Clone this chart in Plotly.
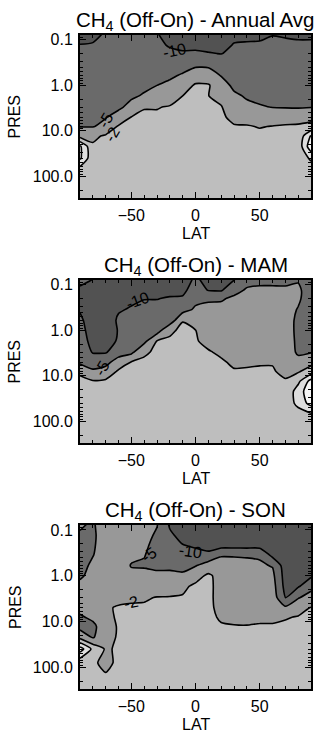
import numpy as np
import plotly.graph_objects as go

# ---------------- data ----------------
lats = [-90, -80, -70, -60, -50, -40, -30, -20, -10, 0, 10, 20, 30, 40, 50, 60, 70, 80, 90]
pres = [0.07, 0.13, 0.2, 0.35, 0.6, 1.0, 1.7, 3, 5, 8, 13, 22, 40, 80, 320]

# each inner list = one latitude column, values top (0.07 hPa) -> bottom (320 hPa)
annual_cols = [
    [-11.5, -9.9, -9.5, -8.7, -8.0, -7.3, -6.7, -6.0, -5.6, -5.2, -3.0, 6.0, 6.0, -1.0, -0.5],
    [-10.8, -9.8, -9.3, -8.6, -8.0, -7.4, -6.8, -6.2, -5.6, -5.2, -2.6, -1.5, -1.0, -0.8, -0.5],
    [-9.8, -9.3, -8.9, -8.3, -7.7, -7.1, -6.5, -5.8, -5.2, -4.3, -1.5, -1.2, -1.0, -0.8, -0.5],
    [-9.5, -9.0, -8.6, -8.0, -7.3, -6.7, -6.0, -5.6, -4.2, -1.6, -1.2, -1.0, -0.9, -0.7, -0.5],
    [-9.5, -9.0, -8.5, -7.8, -7.0, -6.3, -5.5, -4.4, -1.9, -1.4, -1.1, -1.0, -0.9, -0.7, -0.5],
    [-9.7, -9.2, -8.6, -7.7, -6.6, -5.7, -4.8, -2.1, -1.6, -1.3, -1.1, -1.0, -0.9, -0.7, -0.5],
    [-9.9, -9.3, -8.6, -7.5, -6.2, -5.0, -3.8, -2.1, -1.6, -1.3, -1.1, -1.0, -0.9, -0.7, -0.5],
    [-11.5, -10.3, -9.3, -7.6, -5.9, -4.3, -3.0, -1.8, -1.4, -1.2, -1.1, -1.0, -0.9, -0.7, -0.5],
    [-12.0, -10.6, -9.7, -7.0, -4.7, -3.5, -2.0, -1.5, -1.3, -1.2, -1.1, -1.0, -0.9, -0.7, -0.5],
    [-12.5, -10.8, -9.5, -5.7, -3.8, -1.5, -1.9, -1.5, -1.3, -1.2, -1.0, -0.9, -0.8, -0.6, -0.4],
    [-12.7, -11.0, -9.8, -5.8, -3.9, -1.6, -1.95, -1.6, -1.3, -1.2, -1.0, -0.9, -0.8, -0.6, -0.4],
    [-12.5, -11.0, -10.1, -7.5, -5.2, -4.0, -2.8, -1.8, -1.4, -1.2, -1.0, -0.9, -0.8, -0.6, -0.4],
    [-11.0, -9.8, -9.2, -8.3, -7.0, -5.8, -4.6, -3.6, -2.7, -1.7, -1.3, -1.0, -0.8, -0.6, -0.4],
    [-10.8, -9.7, -9.1, -8.3, -7.3, -6.3, -5.4, -4.5, -2.8, -1.8, -1.3, -1.0, -0.8, -0.6, -0.4],
    [-10.4, -9.8, -9.3, -8.6, -7.8, -6.9, -6.0, -4.8, -3.6, -2.1, -1.4, -1.0, -0.8, -0.6, -0.4],
    [-10.1, -9.7, -9.4, -8.8, -8.0, -7.1, -6.1, -5.1, -3.4, -1.9, -1.4, -1.0, -0.8, -0.6, -0.4],
    [-10.15, -9.8, -9.5, -9.0, -8.3, -7.4, -6.4, -5.3, -3.0, -1.7, -1.3, -1.1, -0.9, -0.6, -0.4],
    [-10.2, -9.85, -9.6, -9.1, -8.4, -7.5, -6.5, -5.4, -2.9, -1.6, -1.0, -0.8, -0.8, -0.6, -0.4],
    [-10.2, -9.85, -9.6, -9.1, -8.4, -7.5, -6.4, -5.2, -2.6, -1.2, 5.5, 9.0, 2.5, -0.5, -0.4],
]

mam_cols = [
    [-9.6, -10.2, -10.8, -10.3, -9.3, -8.5, -7.8, -7.0, -6.0, -2.3, -1.5, -1.2, -1.0, -0.8, -0.5],
    [-9.9, -10.8, -11.5, -12.0, -12.0, -12.0, -11.5, -10.3, -7.5, -4.5, -1.8, -1.2, -1.0, -0.8, -0.5],
    [-10.5, -11.0, -11.5, -12.0, -12.0, -12.0, -11.5, -10.3, -7.0, -3.5, -1.6, -1.2, -1.0, -0.8, -0.5],
    [-11.0, -11.0, -11.0, -10.3, -9.5, -9.8, -9.6, -8.0, -3.2, -1.6, -1.4, -1.2, -1.0, -0.8, -0.5],
    [-11.2, -11.0, -10.6, -9.7, -9.0, -8.5, -8.0, -6.2, -1.9, -1.6, -1.4, -1.2, -1.0, -0.8, -0.5],
    [-11.0, -10.5, -10.1, -9.2, -8.5, -8.0, -6.5, -2.2, -1.7, -1.5, -1.3, -1.2, -1.0, -0.8, -0.5],
    [-11.5, -10.8, -10.1, -9.0, -8.2, -7.5, -1.9, -1.7, -1.6, -1.5, -1.3, -1.2, -1.0, -0.8, -0.5],
    [-12.0, -11.0, -9.7, -9.0, -8.2, -2.2, -1.8, -1.7, -1.6, -1.5, -1.3, -1.2, -1.0, -0.8, -0.5],
    [-12.0, -11.0, -9.5, -7.0, -2.05, -1.7, -1.6, -1.6, -1.5, -1.4, -1.3, -1.2, -1.0, -0.8, -0.5],
    [-9.5, -8.0, -6.5, -4.5, -3.5, -1.95, -1.8, -1.7, -1.6, -1.4, -1.3, -1.2, -1.0, -0.8, -0.5],
    [-11.5, -10.2, -6.0, -3.8, -3.4, -3.0, -2.5, -1.8, -1.6, -1.4, -1.3, -1.2, -1.0, -0.8, -0.5],
    [-12.0, -10.5, -5.5, -4.2, -3.8, -3.4, -3.0, -2.3, -1.7, -1.5, -1.3, -1.2, -1.0, -0.8, -0.5],
    [-10.8, -6.5, -4.5, -4.2, -3.9, -3.6, -3.3, -2.8, -2.3, -1.8, -1.5, -1.2, -1.0, -0.8, -0.5],
    [-7.0, -4.7, -4.4, -4.1, -3.8, -3.5, -3.2, -2.8, -2.2, -1.8, -1.5, -1.2, -1.0, -0.8, -0.5],
    [-6.2, -4.6, -4.4, -4.1, -3.8, -3.5, -3.2, -2.8, -2.1, -1.8, -1.5, -1.2, -1.0, -0.8, -0.5],
    [-6.2, -4.6, -4.4, -4.1, -3.8, -3.5, -3.2, -2.8, -2.1, -1.8, -1.5, -1.2, -1.0, -0.8, -0.5],
    [-6.0, -4.7, -4.4, -4.2, -4.0, -3.8, -3.5, -3.2, -2.8, -2.4, -1.8, -1.4, -1.0, -0.7, -0.5],
    [-5.5, -4.6, -4.7, -5.2, -5.8, -6.0, -6.0, -5.8, -4.0, -2.3, 1.0, 3.5, 3.0, -1.0, -0.5],
    [-7.0, -7.0, -6.8, -6.7, -6.5, -6.3, -6.0, -5.3, -3.0, 0.0, 7.0, 9.0, 7.0, 0.0, -0.5],
]

son_cols = [
    [-4.5, -5.5, -6.5, -6.8, -6.5, -5.8, -4.2, -3.8, -4.3, -5.5, -6.5, -3.0, 8.0, -1.0, -0.5],
    [-5.5, -5.8, -5.6, -5.2, -4.5, -4.0, -3.6, -3.4, -3.6, -4.5, -6.0, -5.5, 1.0, -1.5, -0.5],
    [-3.5, -3.6, -3.7, -3.6, -3.4, -3.2, -2.8, -2.5, -2.2, -2.6, -3.5, -2.8, -2.3, -2.6, -0.5],
    [-3.5, -3.5, -3.4, -3.3, -3.2, -3.0, -2.8, -2.5, -1.8, -1.6, -1.6, -1.7, -1.6, -1.4, -0.5],
    [-3.5, -3.6, -3.8, -4.3, -5.3, -4.2, -3.2, -2.3, -1.7, -1.5, -1.4, -1.3, -1.2, -1.0, -0.5],
    [-4.0, -4.2, -4.5, -4.9, -5.4, -4.3, -3.5, -2.2, -1.7, -1.5, -1.4, -1.3, -1.2, -1.0, -0.5],
    [-4.8, -5.6, -6.2, -6.4, -5.8, -4.5, -3.2, -1.9, -1.6, -1.5, -1.4, -1.3, -1.2, -1.0, -0.5],
    [-10.8, -9.2, -8.3, -7.3, -5.9, -4.4, -2.7, -1.9, -1.6, -1.5, -1.4, -1.3, -1.2, -1.0, -0.5],
    [-13.0, -11.5, -10.1, -8.5, -6.5, -4.5, -2.4, -1.8, -1.6, -1.5, -1.4, -1.3, -1.2, -1.0, -0.5],
    [-13.0, -12.0, -11.0, -8.5, -5.3, -2.8, -1.5, -1.7, -1.6, -1.5, -1.4, -1.3, -1.2, -1.0, -0.5],
    [-13.5, -13.0, -12.0, -9.0, -3.5, -1.5, -1.5, -1.6, -1.6, -1.5, -1.4, -1.3, -1.2, -1.0, -0.5],
    [-13.5, -13.0, -13.0, -5.3, -4.2, -2.8, -2.6, -2.5, -2.4, -2.2, -1.8, -1.5, -1.2, -1.0, -0.5],
    [-13.5, -13.0, -13.0, -5.3, -4.3, -3.8, -3.4, -3.0, -2.6, -2.3, -1.9, -1.5, -1.2, -1.0, -0.5],
    [-13.5, -13.0, -13.0, -5.4, -4.4, -3.9, -3.5, -3.1, -2.7, -2.4, -1.9, -1.5, -1.2, -1.0, -0.5],
    [-13.5, -13.0, -13.0, -5.6, -4.6, -4.0, -3.6, -3.2, -2.7, -2.3, -1.8, -1.5, -1.2, -1.0, -0.5],
    [-13.5, -13.0, -12.8, -11.5, -5.3, -4.3, -3.8, -3.3, -2.8, -2.3, -1.8, -1.5, -1.2, -1.0, -0.5],
    [-13.5, -13.0, -13.0, -12.8, -12.5, -12.0, -11.5, -10.3, -4.5, -2.1, -1.7, -1.5, -1.2, -1.0, -0.5],
    [-13.5, -13.0, -13.0, -12.8, -12.5, -12.0, -10.5, -5.5, -2.6, -1.9, -1.7, -1.5, -1.2, -1.0, -0.5],
    [-13.5, -13.0, -13.0, -12.8, -12.2, -10.6, -7.0, -3.5, -1.9, -1.7, -1.6, -1.5, -1.2, -1.0, -0.5],
]

levels = [-10, -5, -2, 2, 5]
titles = ["CH<sub>4</sub> (Off-On) - Annual Avg",
          "CH<sub>4</sub> (Off-On) - MAM",
          "CH<sub>4</sub> (Off-On) - SON"]
ytickvals = [0.1, 1, 10, 100]
yticktext = ["0.1", "1.0", "10.0", "100.0"]
xtickvals = [-50, 0, 50]

# contour labels: (panel, text, lat, pressure, angle)
line_labels = [
    (0, "-10", -16, 0.175, -12),
    (0, "-5", -70, 6.0, -60),
    (0, "-2", -65, 12.0, -60),
    (1, "-10", -45, 0.22, -20),
    (1, "-5", -73, 6.9, -60),
    (2, "-10", -4, 0.29, 8),
    (2, "-5", -36, 0.35, -35),
    (2, "-2", -50, 3.8, -12),
]

# ---------------- styling ----------------
W, H = 315, 741
FONT = "Liberation Sans, Arial, Helvetica, sans-serif"
band_colors = ["rgb(82,82,82)", "rgb(106,106,106)", "rgb(152,152,152)",
               "rgb(190,190,190)", "rgb(222,222,222)", "rgb(246,246,246)"]
cs = []
nb = len(band_colors)
for k, c in enumerate(band_colors):
    cs.append([k / nb, c])
    cs.append([(k + 1) / nb, c])

panels_px = [(32, 196), (278, 442), (524, 689)]
x_px = (80, 311)

fig = go.Figure()
all_cols = [annual_cols, mam_cols, son_cols]
lev_x = [-40] + levels + [40]
lev_i = [-6, 0, 1, 2, 3, 4, 10]

annotations = []
for i, cols in enumerate(all_cols):
    z = np.array(cols, dtype=float).T
    zi = np.interp(z, lev_x, lev_i)
    ax = "" if i == 0 else str(i + 1)
    fig.add_trace(go.Contour(
        x=lats, y=pres, z=zi, xaxis="x" + ax, yaxis="y" + ax,
        contours=dict(start=0, end=4, size=1, coloring="fill", showlines=True),
        line=dict(color="black", width=1.6, smoothing=0.6),
        colorscale=cs, zmin=-1, zmax=5, showscale=False, hoverinfo="skip",
    ))
    top, bot = panels_px[i]
    dom_y = [1 - bot / H, 1 - top / H]
    axis_common = dict(showline=True, linecolor="black", linewidth=2, mirror="allticks",
                       ticks="inside", ticklen=6, tickwidth=1, tickcolor="black",
                       showgrid=False, zeroline=False,
                       tickfont=dict(family=FONT, size=16, color="black"))
    fig.update_layout(**{
        "xaxis" + ax: dict(domain=[x_px[0] / W, x_px[1] / W], range=[-90, 90],
                           tickmode="array", tickvals=xtickvals, anchor="y" + ax,
                           minor=dict(ticks="inside", ticklen=3, dtick=10, tickcolor="black"),
                           ticklabelstandoff=2, **axis_common),
        "yaxis" + ax: dict(domain=dom_y, type="log", range=[2.48, -1.11],
                           tickmode="array", tickvals=ytickvals, ticktext=yticktext,
                           anchor="x" + ax,
                           minor=dict(ticks="inside", ticklen=3, dtick="D1", tickcolor="black"),
                           ticklabelstandoff=2, **axis_common),
    })
    cy = (top + bot) / 2
    annotations.append(dict(text=titles[i], x=(x_px[0] + x_px[1]) / 2 / W, y=1 - (top - 14) / H,
                            xref="paper", yref="paper", showarrow=False, xanchor="center",
                            yanchor="middle", font=dict(family=FONT, size=20.5, color="black")))
    annotations.append(dict(text="LAT", x=(x_px[0] + x_px[1]) / 2 / W, y=1 - (bot + 35) / H,
                            xref="paper", yref="paper", showarrow=False, xanchor="center",
                            yanchor="middle", font=dict(family=FONT, size=16, color="black")))
    annotations.append(dict(text="PRES", x=15 / W, y=1 - cy / H, textangle=-90,
                            xref="paper", yref="paper", showarrow=False, xanchor="center",
                            yanchor="middle", font=dict(family=FONT, size=16, color="black")))

for (pi, txt, la, pr, ang) in line_labels:
    ax = "" if pi == 0 else str(pi + 1)
    annotations.append(dict(text=txt, x=la, y=np.log10(pr), xref="x" + ax, yref="y" + ax,
                            showarrow=False, textangle=ang,
                            font=dict(family=FONT, size=16, color="black")))

fig.update_layout(width=W, height=H, margin=dict(l=0, r=0, t=0, b=0),
                  paper_bgcolor="white", plot_bgcolor=band_colors[3],
                  showlegend=False, annotations=annotations)

fig.write_html("out.html")
